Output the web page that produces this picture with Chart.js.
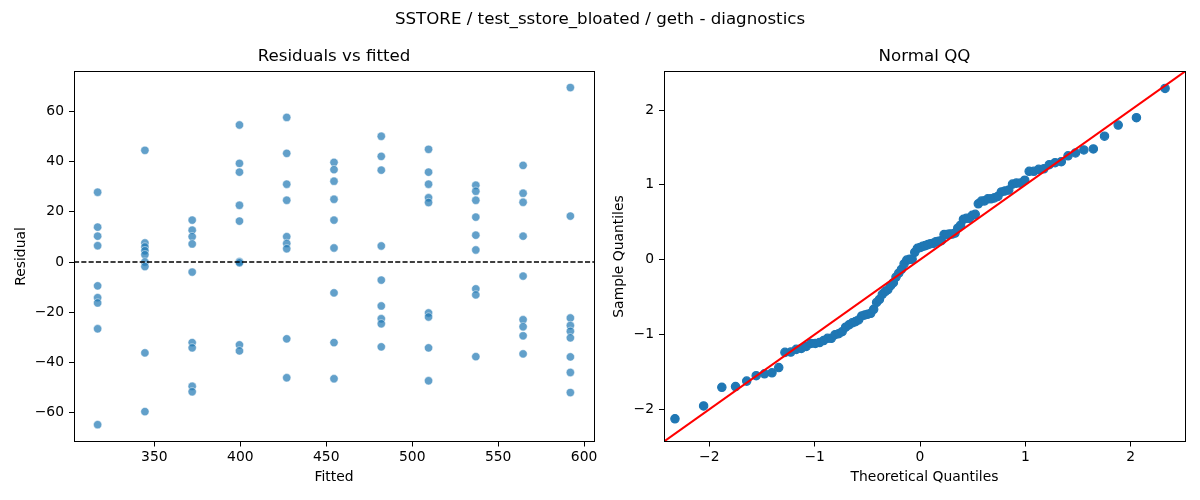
<!DOCTYPE html>
<html>
<head>
<meta charset="utf-8">
<script src="https://cdn.jsdelivr.net/npm/chart.js@4.4.1/dist/chart.umd.min.js"></script>
<style>
html, body { margin: 0; padding: 0; width: 1200px; height: 500px; overflow: hidden; background: #ffffff; }
#sup { position: absolute; left: 0; top: 8.6px; width: 1200px; text-align: center;
       font-family: 'DejaVu Sans', sans-serif; font-size: 16.67px; line-height: 20px; color: #000; }
#c1 { position: absolute; left: 0; top: 0; }
#c2 { position: absolute; left: 600px; top: 0; }
</style>
</head>
<body>
<canvas id="c1" width="668" height="500"></canvas>
<canvas id="c2" width="649" height="500"></canvas>
<div id="sup">SSTORE / test_sstore_bloated / geth - diagnostics</div>
<script>
// ---------------- data ----------------
const fittedLevels = [317, 344.5, 372, 399.5, 427, 454.5, 482, 509.5, 537, 564.5, 592];
const residualGroups = [
  [27.8, 13.9, 10.3, 6.5, -9.5, -14.2, -16.3, -26.6, -64.8],
  [44.5, 7.6, 6.0, 4.5, 2.9, 0.0, -1.8, -36.2, -59.6],
  [16.7, 12.7, 10.1, 7.2, -4.0, -32.1, -34.2, -49.5, -51.7],
  [54.6, 39.3, 35.8, 22.6, 16.3, 0.1, -0.3, -33.0, -35.4],
  [57.6, 43.3, 31.0, 24.6, 10.1, 7.4, 5.3, -30.6, -46.1],
  [39.7, 36.8, 32.2, 25.0, 16.7, 5.6, -12.3, -32.1, -46.5],
  [50.1, 42.1, 36.6, 6.4, -7.2, -17.5, -22.6, -24.6, -33.8],
  [44.9, 35.8, 31.0, 25.6, 23.7, -20.3, -21.9, -34.2, -47.3],
  [30.6, 28.2, 24.6, 17.9, 10.7, 4.8, -10.7, -13.1, -37.7],
  [38.5, 27.4, 23.8, 10.3, -5.6, -23.0, -25.8, -29.4, -36.6],
  [69.5, 18.3, -22.3, -25.3, -27.6, -30.2, -37.8, -44.0, -52.0]
];
const theoreticalQuantiles = [
  -2.326, -2.054, -1.881, -1.751, -1.645, -1.555, -1.476, -1.405, -1.341, -1.282,
  -1.227, -1.175, -1.126, -1.080, -1.036, -0.994, -0.954, -0.915, -0.878, -0.842,
  -0.806, -0.772, -0.739, -0.706, -0.674, -0.643, -0.613, -0.583, -0.553, -0.524,
  -0.496, -0.468, -0.440, -0.412, -0.385, -0.358, -0.332, -0.305, -0.279, -0.253,
  -0.228, -0.202, -0.176, -0.151, -0.126, -0.100, -0.075, -0.050, -0.025, 0.000,
  0.025, 0.050, 0.075, 0.100, 0.126, 0.151, 0.176, 0.202, 0.228, 0.253,
  0.279, 0.305, 0.332, 0.358, 0.385, 0.412, 0.440, 0.468, 0.496, 0.524,
  0.553, 0.583, 0.613, 0.643, 0.674, 0.706, 0.739, 0.772, 0.806, 0.842,
  0.878, 0.915, 0.954, 0.994, 1.036, 1.080, 1.126, 1.175, 1.227, 1.282,
  1.341, 1.405, 1.476, 1.555, 1.645, 1.751, 1.881, 2.054, 2.326
];
const sampleQuantiles = [
  -2.126, -1.955, -1.705, -1.696, -1.623, -1.551, -1.525, -1.512, -1.442, -1.239,
  -1.235, -1.199, -1.186, -1.160, -1.120, -1.120, -1.107, -1.081, -1.051, -1.051,
  -1.002, -0.989, -0.963, -0.903, -0.870, -0.844, -0.828, -0.805, -0.752, -0.739,
  -0.729, -0.716, -0.663, -0.571, -0.532, -0.463, -0.427, -0.400, -0.348, -0.308,
  -0.233, -0.180, -0.128, -0.055, -0.006, 0.004, 0.007, 0.099, 0.152, 0.162,
  0.178, 0.188, 0.201, 0.214, 0.218, 0.241, 0.247, 0.254, 0.336, 0.336,
  0.343, 0.343, 0.356, 0.421, 0.461, 0.540, 0.553, 0.553, 0.592, 0.606,
  0.747, 0.783, 0.786, 0.813, 0.813, 0.826, 0.846, 0.905, 0.918, 0.931,
  1.010, 1.023, 1.023, 1.062, 1.181, 1.181, 1.207, 1.214, 1.270, 1.296,
  1.309, 1.388, 1.427, 1.467, 1.480, 1.651, 1.799, 1.897, 2.289
];
const fittedTicks = [350, 400, 450, 500, 550, 600];
const residualTicks = [-60, -40, -20, 0, 20, 40, 60];
const qqTicks = [-2, -1, 0, 1, 2];
const fittedRange = [303.25, 605.75];
const residualRange = [-71.5, 75.9];
const qqRange = [-2.43, 2.515];
const zeroResidual = 0;

// ---------------- helpers ----------------
Chart.defaults.font.family = "'DejaVu Sans', sans-serif";
Chart.defaults.font.size = 13.89;
Chart.defaults.color = '#000';

const fmt = v => String(v).replace('-', '\u2212');

const framePlugin = {
  id: 'frame',
  afterDraw(chart) {
    const { ctx, chartArea: a } = chart;
    const l = Math.floor(a.left) + 0.5, r = Math.floor(a.right) + 0.5;
    const t = Math.floor(a.top) + 0.5, b = Math.floor(a.bottom) + 0.5;
    ctx.save();
    ctx.strokeStyle = '#000';
    ctx.lineWidth = 1;
    ctx.strokeRect(l, t, r - l, b - t);
    ctx.restore();
  }
};

const zeroLinePlugin = {
  id: 'zeroLine',
  afterDatasetsDraw(chart, args, opts) {
    if (!opts || opts.value === undefined) return;
    const { ctx, chartArea: a, scales } = chart;
    const py = scales.y.getPixelForValue(opts.value);
    ctx.save();
    ctx.beginPath();
    ctx.setLineDash([5.1, 2.2]);
    ctx.lineWidth = 1.3;
    ctx.strokeStyle = '#000';
    ctx.moveTo(a.left, py);
    ctx.lineTo(a.right, py);
    ctx.stroke();
    ctx.restore();
  }
};

function axis(range, ticks, title, pos, size, titlePad) {
  const horizontal = pos === 'bottom';
  return {
    type: 'linear',
    position: pos,
    min: range[0],
    max: range[1],
    afterBuildTicks: s => { s.ticks = ticks.map(v => ({ value: v })); },
    afterFit: s => { if (horizontal) s.height = size; else s.width = size; },
    grid: { display: true, drawOnChartArea: false, drawTicks: true, tickLength: 5, color: '#000', lineWidth: 1 },
    border: { display: false },
    ticks: { autoSkip: false, maxRotation: 0, padding: horizontal ? 2.5 : 5, callback: v => fmt(v), color: '#000', font: { size: 13.89 } },
    title: { display: true, text: title, color: '#000', font: { size: 13.89, lineHeight: 1.2 }, padding: titlePad }
  };
}

function dummyRight(width) {
  return {
    type: 'linear', position: 'right', display: true,
    grid: { display: false }, border: { display: false }, ticks: { display: false },
    afterFit: s => { s.width = width; }
  };
}

function titleOpts(text) {
  return { display: true, text, color: '#000', font: { size: 16.67, weight: 'normal', lineHeight: 1.2 }, padding: { top: 0, bottom: 5 } };
}

// ---------------- chart 1: residuals vs fitted ----------------
const residualPoints = [];
fittedLevels.forEach((f, i) => residualGroups[i].forEach(r => residualPoints.push({ x: f, y: r })));

new Chart(document.getElementById('c1'), {
  type: 'scatter',
  data: {
    datasets: [{
      data: residualPoints,
      backgroundColor: 'rgba(31,119,180,0.7)',
      borderColor: 'rgba(255,255,255,0.7)',
      borderWidth: 0.7,
      pointRadius: 4.17,
      pointHoverRadius: 4.17
    }]
  },
  options: {
    responsive: false,
    animation: false,
    events: [],
    layout: { padding: { top: 46.5, left: 0, right: 0, bottom: 0 } },
    plugins: {
      legend: { display: false },
      tooltip: { enabled: false },
      title: titleOpts('Residuals vs fitted'),
      zeroLine: { value: zeroResidual }
    },
    scales: {
      x: axis(fittedRange, fittedTicks, 'Fitted', 'bottom', 58.5, { top: 0, bottom: 14.4 }),
      y: axis(residualRange, residualTicks, 'Residual', 'left', 74, { top: 13, bottom: 0 }),
      yR: dummyRight(74)
    }
  },
  plugins: [framePlugin, zeroLinePlugin]
});

// ---------------- chart 2: normal QQ ----------------
const qqPoints = theoreticalQuantiles.map((q, i) => ({ x: q, y: sampleQuantiles[i] }));
const refLine = qqRange.map(v => ({ x: v, y: v }));

new Chart(document.getElementById('c2'), {
  type: 'scatter',
  data: {
    datasets: [
      {
        data: refLine,
        showLine: true,
        borderColor: '#ff0000',
        borderWidth: 2.08,
        pointRadius: 0,
        order: 0
      },
      {
        data: qqPoints,
        backgroundColor: '#1f77b4',
        borderColor: '#1f77b4',
        borderWidth: 1.2,
        pointRadius: 4.17,
        pointHoverRadius: 4.17,
        order: 1
      }
    ]
  },
  options: {
    responsive: false,
    animation: false,
    events: [],
    layout: { padding: { top: 46.5, left: 0, right: 0, bottom: 0 } },
    plugins: {
      legend: { display: false },
      tooltip: { enabled: false },
      title: titleOpts('Normal QQ')
    },
    scales: {
      x: axis(qqRange, qqTicks, 'Theoretical Quantiles', 'bottom', 58.5, { top: 0, bottom: 14.4 }),
      y: axis(qqRange, qqTicks, 'Sample Quantiles', 'left', 64, { top: 11.5, bottom: 0 }),
      yR: dummyRight(64)
    }
  },
  plugins: [framePlugin]
});
</script>
</body>
</html>
